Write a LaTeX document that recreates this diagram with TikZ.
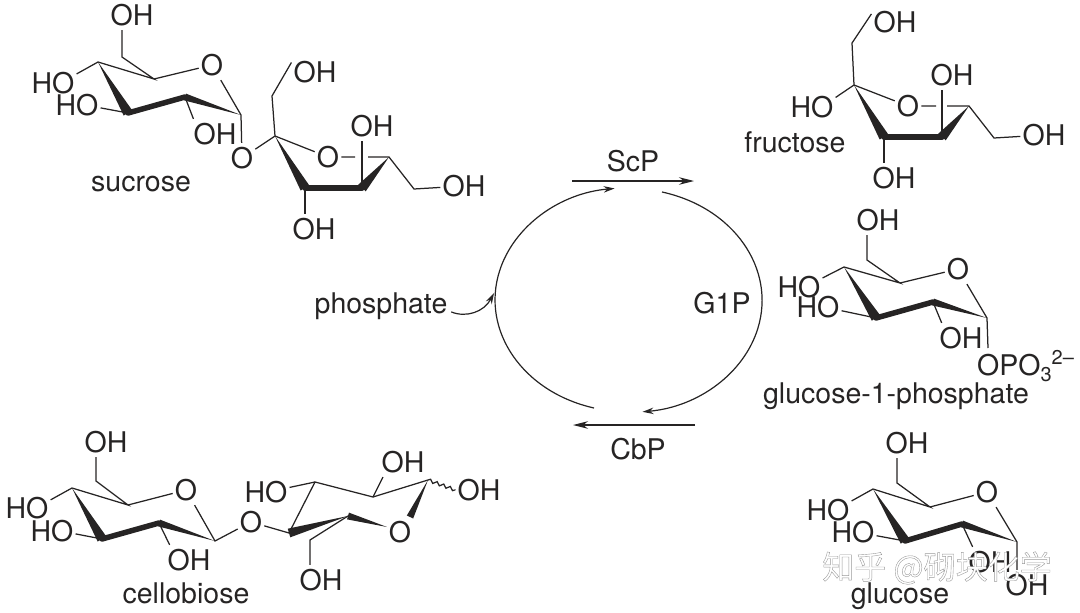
\documentclass[tikz,border=0pt]{standalone}
\usepackage{fontspec}
\setmainfont{TeX Gyre Heros}
\newfontfamily\cjkfont[FakeBold=1.2]{Noto Sans CJK SC}
\usepackage{xcolor}
\usetikzlibrary{arrows.meta,calc,decorations.pathmorphing}
\definecolor{lineblack}{RGB}{38,36,36}
\newcommand{\wedgebond}[3]{\fill[lineblack] (#1) -- ($(#2)!#3!90:(#1)$) -- ($(#2)!#3!-90:(#1)$) -- cycle;}

\begin{document}
\begin{tikzpicture}[x=1pt,y=-1pt,
  bond/.style={draw=lineblack,line width=1.25pt},
  boldbond/.style={draw=lineblack,line width=5.5pt,line cap=round},
  atom/.style={inner xsep=2pt,inner ysep=4pt,text=lineblack,font=\fontsize{28.5}{28.5}\selectfont},
  captext/.style={anchor=base,inner sep=0pt,text=lineblack,font=\fontsize{28.5}{28.5}\selectfont},
  cycleline/.style={draw=lineblack,line width=1.2pt,-{Stealth[length=11pt,width=6.5pt]}},
  enzymeline/.style={draw=lineblack,line width=1.3pt,-{Stealth[length=15pt,width=7.5pt]}}]
\useasboundingbox (0,0) rectangle (1080,613);

\coordinate (s1c4) at (98,62);
\coordinate (s1c5) at (154,79);
\coordinate (s1c1) at (241,115);
\coordinate (s1c2) at (185,97);
\coordinate (s1c3) at (128,113);
\coordinate (s1ch) at (122,57);
\node[atom] (s1o) at (212,65) {O};
\node[atom] (s1oh) at (132,15) {OH};
\node[atom] (s1ho) at (53,83) {HO};
\node[atom] (s1ho2) at (77,105) {HO};
\node[atom] (s1oh2) at (215,134) {OH};
\node[atom] (s1link) at (242,158) {O};
\draw[bond] (s1ho.21) -- (s1c4) -- (s1c5) -- (s1ch) -- (s1oh.south -| s1ch);
\draw[bond] (s1c5) -- (s1o) -- (s1c1) -- (s1link);
\draw[bond] (s1c3) -- (s1ho2.-7);
\draw[bond] (s1c2) -- (s1oh2.145);
\wedgebond{s1c4}{s1c3}{5pt}
\draw[boldbond] (s1c3) -- (s1c2);
\wedgebond{s1c1}{s1c2}{3.5pt}

\coordinate (s2c2) at (275,136);
\coordinate (s2ch) at (272,96);
\coordinate (s2c3) at (305,188);
\coordinate (s2c4) at (362,188);
\coordinate (s2c5) at (389,157);
\coordinate (s2ch2) at (414,189);
\coordinate (s2gapa) at (355,157);
\coordinate (s2gapb) at (368,157);
\node[atom] (s2o) at (328,157) {O};
\node[atom] (s2oh) at (315,72) {OH};
\node[atom] (s2oh2) at (372,126) {OH};
\node[atom] (s2oh3) at (314,229) {OH};
\node[atom] (s2oh4) at (464,186) {OH};
\draw[bond] (s1link) -- (s2c2) -- (s2ch) -- (s2oh.158);
\draw[bond] (s2c2) -- (s2o) -- (s2gapa);
\draw[bond] (s2gapb) -- (s2c5) -- (s2ch2) -- (s2oh4);
\draw[bond] (s2c4) -- (s2oh2.south -| s2c4);
\draw[bond] (s2c3) -- (s2oh3.north -| s2c3);
\wedgebond{s2c2}{s2c3}{5pt}
\draw[boldbond] (s2c3) -- (s2c4);
\wedgebond{s2c5}{s2c4}{5pt}
\node[captext] (sucrose) at (141,191) {sucrose};

\coordinate (fc2) at (854,85);
\coordinate (fch) at (852,43);
\coordinate (fc3) at (884,137);
\coordinate (fc4) at (942,137);
\coordinate (fc5) at (969,106);
\coordinate (fch2) at (994,138);
\coordinate (fgapa) at (936,106);
\coordinate (fgapb) at (947,106);
\node[atom] (fo) at (908,106) {O};
\node[atom] (foh) at (895,22) {OH};
\node[atom] (fho) at (812,107) {HO};
\node[atom] (foh2) at (952,75) {OH};
\node[atom] (foh3) at (894,178) {OH};
\node[atom] (foh4) at (1044,135) {OH};
\draw[bond] (fho.22) -- (fc2) -- (fch) -- (foh.161);
\draw[bond] (fc2) -- (fo) -- (fgapa);
\draw[bond] (fgapb) -- (fc5) -- (fch2) -- (foh4);
\draw[bond] (fc4) -- (foh2.south -| fc4);
\draw[bond] (fc3) -- (foh3.north -| fc3);
\wedgebond{fc2}{fc3}{5pt}
\draw[boldbond] (fc3) -- (fc4);
\wedgebond{fc5}{fc4}{5pt}
\node[captext] (fructose) at (795,152) {fructose};

\coordinate (gc4) at (844,267);
\coordinate (gc5) at (900,283);
\coordinate (gc1) at (987,318);
\coordinate (gc2) at (933,302);
\coordinate (gc3) at (876,318);
\coordinate (gch) at (867,260);
\coordinate (gend) at (988,348);
\node[atom] (go) at (958,269) {O};
\node[atom] (goh) at (878,220) {OH};
\node[atom] (gho) at (799,287) {HO};
\node[atom] (gho2) at (818,307) {HO};
\node[atom] (goh2) at (961,338) {OH};
\node[atom,anchor=base west,inner xsep=0pt] (gopo) at (977,375) {OPO\raisebox{-6pt}{\fontsize{20}{20}\selectfont 3}\raisebox{11pt}{\fontsize{20}{20}\selectfont 2–}};
\draw[bond] (gho.21) -- (gc4) -- (gc5) -- (gch) -- (goh.south -| gch);
\draw[bond] (gc5) -- (go) -- (gc1) -- (gend);
\draw[bond] (gc3) -- (gho2.-9);
\draw[bond] (gc2) -- (goh2.142);
\wedgebond{gc4}{gc3}{5pt}
\draw[boldbond] (gc3) -- (gc2);
\wedgebond{gc1}{gc2}{3.5pt}
\node[captext] (g1plabel) at (896,403) {glucose-1-phosphate};

\coordinate (kc4) at (873,489);
\coordinate (kc5) at (930,507);
\coordinate (kc1) at (1017,542);
\coordinate (kc2) at (962,524);
\coordinate (kc3) at (905,541);
\coordinate (kch) at (897,483);
\node[atom] (ko) at (987,492) {O};
\node[atom] (koh) at (907,443) {OH};
\node[atom] (kho) at (828,510) {HO};
\node[atom] (kho2) at (853,532) {HO};
\node[atom] (koh2) at (990,562) {OH};
\node[atom] (koh3) at (1027,585) {OH};
\draw[bond] (kho.21) -- (kc4) -- (kc5) -- (kch) -- (koh.south -| kch);
\draw[bond] (kc5) -- (ko) -- (kc1) -- (koh3.north -| kc1);
\draw[bond] (kc3) -- (kho2.-9);
\draw[bond] (kc2) -- (koh2.139);
\wedgebond{kc4}{kc3}{5pt}
\draw[boldbond] (kc3) -- (kc2);
\wedgebond{kc1}{kc2}{3.5pt}
\node[captext] (glucoselabel) at (900,603) {glucose};

\coordinate (cc4) at (72,488);
\coordinate (cc5) at (128,505);
\coordinate (cc1) at (215,541);
\coordinate (cc2) at (159,523);
\coordinate (cc3) at (102,539);
\coordinate (cch) at (96,481);
\node[atom] (co) at (186,490) {O};
\node[atom] (coh) at (106,442) {OH};
\node[atom] (cho) at (27,508) {HO};
\node[atom] (cho2) at (52,531) {HO};
\node[atom] (coh2) at (189,560) {OH};
\node[atom] (clink) at (251,522) {O};
\draw[bond] (cho.19) -- (cc4) -- (cc5) -- (cch) -- (coh.south -| cch);
\draw[bond] (cc5) -- (co) -- (cc1) -- (clink);
\draw[bond] (cc3) -- (cho2.-7);
\draw[bond] (cc2) -- (coh2.142);
\wedgebond{cc4}{cc3}{5pt}
\draw[boldbond] (cc3) -- (cc2);
\wedgebond{cc1}{cc2}{3.5pt}

\coordinate (dc4) at (289,533);
\coordinate (dc3) at (315,482);
\coordinate (dc2) at (373,497);
\coordinate (dc1) at (428,480);
\coordinate (dc5) at (348,516);
\coordinate (dch) at (310,540);
\coordinate (dwedge) at (410,517);
\coordinate (dwedge2) at (387,527);
\node[atom] (do) at (400,532) {O};
\node[atom] (dho) at (266,492) {HO};
\node[atom] (doh) at (403,462) {OH};
\node[atom] (doh2) at (321,580) {OH};
\node[atom] (doh3) at (479,490) {OH};
\draw[bond] (clink) -- (dc4) -- (dc3) -- (dc2) -- (dc1);
\draw[bond] (dc3) -- (dho.11);
\draw[bond] (dc2) -- (doh.217);
\draw[bond] (dc5) -- (dch) -- (doh2.north -| dch);
\draw[bond,decorate,decoration={snake,amplitude=1.6pt,segment length=7pt}] (dc1) -- (doh3.west);
\wedgebond{dc1}{dwedge}{3.5pt}
\wedgebond{dc5}{dc4}{4.5pt}
\wedgebond{dwedge2}{dc5}{3.5pt}
\node[captext] (cellobiose) at (186,603) {cellobiose};

\coordinate (scpstart) at (572,181);
\coordinate (scpend) at (694,181);
\coordinate (cbpstart) at (695,425);
\coordinate (cbpend) at (573,425);
\coordinate (arcleft) at (594,408);
\coordinate (arcright) at (662,192);
\node[atom] (scp) at (633,161) {ScP};
\node[atom] (cbp) at (638,449) {CbP};
\node[atom] (g1p) at (722,303) {G1P};
\node[captext] (phosphate) at (381,313) {phosphate};
\coordinate (phostip) at (494,293);
\draw[enzymeline] (scpstart) -- (scpend);
\draw[enzymeline] (cbpstart) -- (cbpend);
\draw[cycleline] (arcleft) arc[start angle=105,end angle=264,x radius=133.5,y radius=112];
\draw[cycleline] (arcright) arc[start angle=-75.5,end angle=84,x radius=133.5,y radius=112];
\draw[cycleline,shorten <=4pt] (phosphate.-4) .. controls (466,318) and (484,312) .. (phostip);

\node[font=\cjkfont\fontsize{32}{32}\selectfont,inner sep=0pt] (watermark) at (937,568) {\color{white}\special{pdf:code 0.6 G}知乎 @砌块化学};
\end{tikzpicture}
\end{document}
